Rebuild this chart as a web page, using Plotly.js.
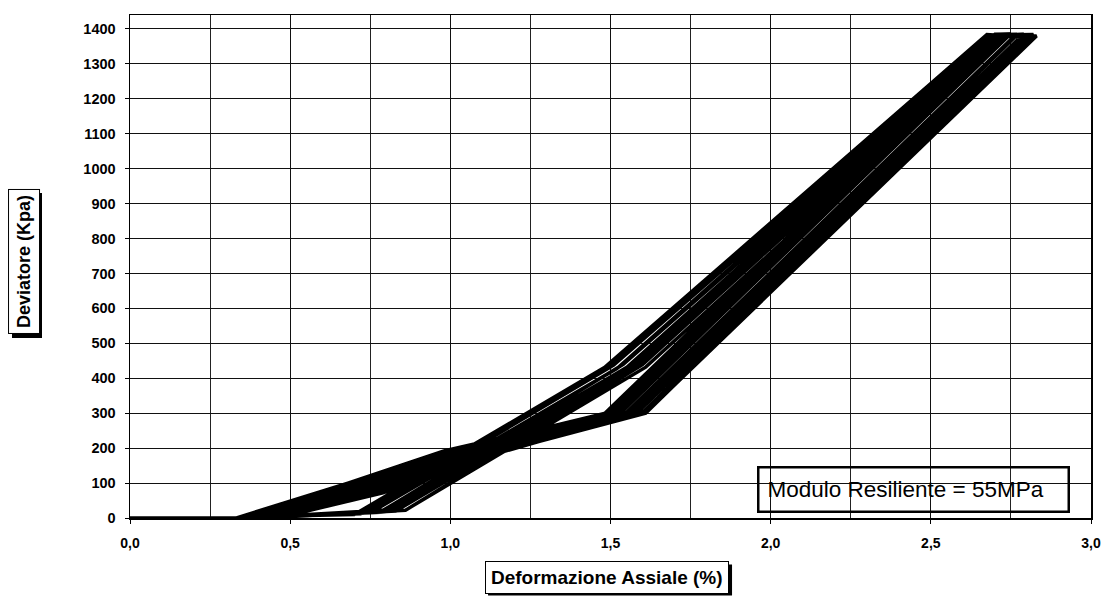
<!DOCTYPE html>
<html>
<head>
<meta charset="utf-8">
<script src="https://cdn.plot.ly/plotly-3.0.1.min.js"></script>
<style>
html,body{margin:0;padding:0;background:#fff;}
#chart{width:1104px;height:596px;}
</style>
</head>
<body>
<div id="chart"></div>
<script>
// ---- axis ticks ----
const xTickVals = [0, 0.5, 1.0, 1.5, 2.0, 2.5, 3.0];
const xTickText = ['0,0', '0,5', '1,0', '1,5', '2,0', '2,5', '3,0'];
const xMinorVals = [0.25, 0.75, 1.25, 1.75, 2.25, 2.75];
const yTickVals = [0, 100, 200, 300, 400, 500, 600, 700, 800, 900, 1000, 1100, 1200, 1300, 1400];

// ---- data: loading/unloading cycles (axial strain %, deviator kPa) ----
const originX = [0.00];
const originY = [0];
// start of each loading cycle
const loadStartX = [0.33, 0.35, 0.37, 0.39, 0.40, 0.41, 0.42, 0.43, 0.44, 0.45, 0.46, 0.46, 0.47, 0.48];
const loadStartY = [0, 3, 1, 4, 2, 5, 3, 1, 4, 2, 5, 3, 2, 4];
// first knee of loading branch
const loadKneeAX = [0.68, 0.69, 0.70, 0.71, 0.72, 0.73, 0.74, 0.74, 0.75, 0.76, 0.77, 0.77, 0.78, 0.79];
const loadKneeAY = [100, 98, 95, 93, 90, 88, 86, 83, 81, 80, 78, 76, 74, 72];
// second knee of loading branch
const loadKneeBX = [0.98, 0.99, 1.00, 1.01, 1.02, 1.03, 1.04, 1.05, 1.06, 1.07, 1.08, 1.09, 1.10, 1.11];
const loadKneeBY = [192, 190, 188, 187, 185, 184, 182, 181, 180, 179, 178, 177, 176, 175];
// ~300 kPa point on loading branch
const loadMidX = [1.48, 1.50, 1.51, 1.52, 1.53, 1.54, 1.55, 1.56, 1.57, 1.58, 1.59, 1.60, 1.61, 1.62];
const loadMidY = [298, 304, 300, 306, 302, 308, 303, 299, 305, 301, 307, 302, 300, 310];
// peak (end of loading)
const peakRightX = [2.70, 2.71, 2.72, 2.73, 2.74, 2.75, 2.76, 2.77, 2.78, 2.79, 2.80, 2.81, 2.82, 2.83];
const peakRightY = [1376, 1382, 1378, 1384, 1380, 1386, 1379, 1383, 1377, 1385, 1381, 1378, 1384, 1380];
// peak (start of unloading)
const peakLeftX = [2.67, 2.675, 2.68, 2.69, 2.69, 2.70, 2.70, 2.71, 2.71, 2.72, 2.72, 2.73, 2.73, 2.74];
const peakLeftY = [1380, 1384, 1379, 1383, 1381, 1385, 1378, 1382, 1380, 1384, 1379, 1381, 1383, 1380];
// ~430 kPa point on unloading branch
const unloadMidX = [1.48, 1.49, 1.50, 1.51, 1.52, 1.53, 1.54, 1.55, 1.56, 1.57, 1.58, 1.59, 1.60, 1.61];
const unloadMidY = [430, 436, 432, 438, 428, 434, 440, 431, 437, 433, 429, 435, 439, 432];
// end of unloading
const unloadEndX = [0.70, 0.71, 0.72, 0.74, 0.75, 0.76, 0.78, 0.79, 0.80, 0.82, 0.83, 0.84, 0.86, 0.87];
const unloadEndY = [10, 14, 12, 18, 15, 20, 16, 22, 18, 24, 20, 26, 22, 28];

// ---- build the single polyline from the arrays ----
const px = [originX[0]], py = [originY[0]];
for (let k = 0; k < loadStartX.length; k++) {
  px.push(loadStartX[k], loadKneeAX[k], loadKneeBX[k], loadMidX[k], peakRightX[k], peakLeftX[k], unloadMidX[k], unloadEndX[k]);
  py.push(loadStartY[k], loadKneeAY[k], loadKneeBY[k], loadMidY[k], peakRightY[k], peakLeftY[k], unloadMidY[k], unloadEndY[k]);
}

const FONT = 'Arial, "Liberation Sans", sans-serif';

const trace = {
  type: 'scatter', mode: 'lines', x: px, y: py,
  line: {color: '#000', width: 3.4, shape: 'linear'},
  hoverinfo: 'skip', showlegend: false
};

// boxed axis-title positions (paper fractions)
const yTitlePos = [-0.1103, 0.509];
const xTitlePos = [0.4964, -0.1173];

const layout = {
  width: 1104, height: 596,
  margin: {l: 130, r: 13, t: 15, b: 78},
  paper_bgcolor: '#fff', plot_bgcolor: '#fff',
  showlegend: false,
  font: {family: FONT, color: '#000'},
  xaxis: {
    range: [0, 3], tickvals: xTickVals, ticktext: xTickText.map(t => '<b>' + t + '</b>'),
    tickfont: {family: FONT, size: 14, color: '#000'},
    showgrid: true, gridcolor: '#111', gridwidth: 1,
    minor: {tickvals: xMinorVals, showgrid: true, gridcolor: '#222', gridwidth: 1, ticks: ''},
    showline: true, linecolor: '#000', linewidth: 1.5, mirror: true,
    ticks: 'outside', ticklen: 4, tickcolor: '#000', ticklabelstandoff: 8,
    zeroline: false, fixedrange: true
  },
  yaxis: {
    range: [0, 1440], tickvals: yTickVals, ticktext: yTickVals.map(v => '<b>' + v + '</b>'),
    tickfont: {family: FONT, size: 14.5, color: '#000'},
    showgrid: true, gridcolor: '#111', gridwidth: 1,
    showline: true, linecolor: '#000', linewidth: 1.5, mirror: true,
    ticks: 'outside', ticklen: 4, tickcolor: '#000', ticklabelstandoff: 6,
    zeroline: false, fixedrange: true
  },
  shapes: [
    {type: 'rect', xref: 'paper', yref: 'paper', xsizemode: 'pixel', ysizemode: 'pixel',
     xanchor: yTitlePos[0], yanchor: yTitlePos[1], x0: -12, x1: 18, y0: -76, y1: 69,
     fillcolor: '#000', line: {width: 0}, layer: 'above'},
    {type: 'rect', xref: 'paper', yref: 'paper', xsizemode: 'pixel', ysizemode: 'pixel',
     xanchor: xTitlePos[0], yanchor: xTitlePos[1], x0: -119, x1: 125, y0: -18.5, y1: 12.5,
     fillcolor: '#000', line: {width: 0}, layer: 'above'}
  ],
  annotations: [
    {xref: 'paper', yref: 'paper', x: yTitlePos[0], y: yTitlePos[1], xanchor: 'center', yanchor: 'middle',
     showarrow: false, textangle: -90,
     text: '<b>Deviatore (Kpa)</b>', font: {family: FONT, size: 18, color: '#000'},
     bgcolor: '#fff', bordercolor: '#000', borderwidth: 1, borderpad: 5},
    {xref: 'paper', yref: 'paper', x: xTitlePos[0], y: xTitlePos[1], xanchor: 'center', yanchor: 'middle',
     showarrow: false,
     text: '<b>Deformazione Assiale (%)</b>', font: {family: FONT, size: 19, color: '#000'},
     bgcolor: '#fff', bordercolor: '#000', borderwidth: 1, borderpad: 5},
    {xref: 'paper', yref: 'paper', x: 0.8148, y: 0.0557, xanchor: 'center', yanchor: 'middle',
     showarrow: false,
     text: 'Modulo Resiliente = 55MPa', font: {family: FONT, size: 22.5, color: '#000'},
     align: 'left', width: 292, height: 26,
     bgcolor: 'rgba(0,0,0,0)', bordercolor: '#000', borderwidth: 2.5, borderpad: 8}
  ]
};

Plotly.newPlot('chart', [trace], layout, {staticPlot: true, displayModeBar: false});
</script>
</body>
</html>
